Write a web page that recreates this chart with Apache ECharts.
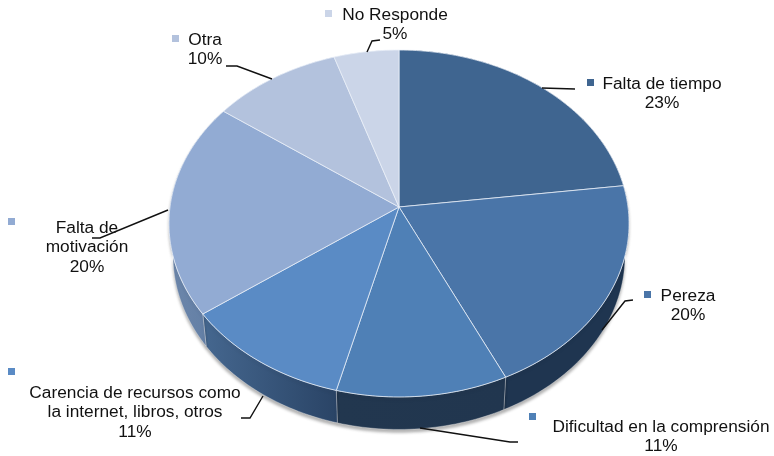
<!DOCTYPE html>
<html><head><meta charset="utf-8">
<style>html,body{margin:0;padding:0;background:#fff}#c{width:774px;height:456px}</style>
<script src="https://cdn.jsdelivr.net/npm/echarts@6/dist/echarts.min.js"></script>
</head><body><div id="c"></div>
<script>
const categories = ['Falta de tiempo','Pereza','Dificultad en la comprensión','Carencia de recursos como la internet, libros, otros','Falta de motivación','Otra','No Responde'];
const values = [23,20,11,11,20,10,5];
const labelLines = [['Falta de tiempo'],['Pereza'],['Dificultad en la comprensión'],['Carencia de recursos como','la internet, libros, otros'],['Falta de','motivación'],['Otra'],['No Responde']];

const faceColors = ['#3f6590','#4a75a8','#4f80b6','#5a8bc5','#92abd3','#b3c2dd','#cbd5e8'];
const wallColors = [
  ['#1f3550','#1f3550'],['#1f3550','#1f3550'],['#22374f','#21364f'],
  ['#45678f','#2a4466'],['#6d87ab','#5f7ca3'],['#b3c2dd','#b3c2dd'],['#cbd5e8','#cbd5e8']
];
const wallShadow = [0,3,3,3,3,0,0];
// Layout of each label: centre x, first line y, key x, key y, leader polyline
const layout = [
  {x:662,y:84, kx:587,ky:79, lead:[[542,88],[575,89]]},
  {x:688,y:296,kx:644,ky:291,lead:[[633,300],[625,301],[602,330]]},
  {x:661,y:427,kx:529,ky:413,lead:[[420,428],[510,442],[518,442]]},
  {x:135,y:393,kx:8,ky:368, lead:[[241,418],[250,418],[263,396]]},
  {x:87, y:228,kx:8,ky:218, lead:[[92,238],[100,238],[168,210]]},
  {x:205,y:40, kx:172,ky:35,lead:[[226,66],[237,66],[272,79]]},
  {x:395,y:15, kx:325,ky:10,lead:[[380,40],[372,41],[367,52]]}
];

// Projected disc: circle in perspective, hub off-centre from the rim ellipse
const CX=399, HUB=207, K=0.0951, A=229, B=-152.2;
function rim(t){ const s=Math.sin(t),c=Math.cos(t),d=1+K*c; return [CX+A*s/d,(B*c+HUB)/d]; }
function floor(p){ return [CX+(p[0]-CX)*226/230, 255+(p[1]-223)*174/173.5]; }

const total = values.reduce((a,b)=>a+b,0);
const starts=[]; values.reduce((acc,v,i)=>{starts[i]=acc;return acc+v;},0);

function arcPts(i,fn){
  const a0=starts[i]/total*2*Math.PI, a1=(starts[i]+values[i])/total*2*Math.PI;
  const n=Math.max(8,Math.round(values[i]*3)), pts=[];
  for(let j=0;j<=n;j++){ pts.push(fn(a0+(a1-a0)*j/n)); }
  return pts;
}
const wallData = values.map((v,i)=>[i,v]);
const faceData = values.map((v,i)=>({name:categories[i],value:[i,v]}));

const graphic=[];
labelLines.forEach((lines,i)=>{
  const L=layout[i];
  const txt=lines.concat([values[i]+'%']);
  txt.forEach((t,j)=>graphic.push({type:'text',z:20,x:L.x,y:L.y+j*19.5,style:{text:t,fill:'#111',font:'17.3px "Liberation Sans"',align:'center',verticalAlign:'middle'}}));
  graphic.push({type:'rect',z:20,shape:{x:L.kx,y:L.ky,width:7,height:7},style:{fill:faceColors[i]}});
  graphic.push({type:'polyline',z:21,shape:{points:L.lead},style:{stroke:'#111',lineWidth:1.4,fill:null}});
});

const option={
  animation:false,
  backgroundColor:'#fff',
  graphic:graphic,
  series:[
    {type:'custom',coordinateSystem:'none',z:1,data:wallData,silent:true,
     renderItem(params,api){
       const i=api.value(0);
       const top=arcPts(i,rim), bot=top.map(floor);
       const w=wallColors[i];
       const minX=Math.min(...top.map(p=>p[0])), maxX=Math.max(...top.map(p=>p[0]));
       return {type:'polygon',shape:{points:top.concat(bot.slice().reverse())},
         style:{fill:new echarts.graphic.LinearGradient(minX,0,maxX,0,[{offset:0,color:w[0]},{offset:1,color:w[1]}],true),
                stroke:'rgba(255,255,255,0.3)',lineWidth:1,shadowBlur:wallShadow[i],shadowOffsetY:wallShadow[i],shadowColor:'rgba(0,0,0,0.3)'}};
     }},
    {type:'custom',coordinateSystem:'none',z:2,data:faceData,silent:true,
     renderItem(params,api){
       const i=api.value(0);
       const pts=[[CX,HUB]].concat(arcPts(i,rim));
       return {type:'polygon',shape:{points:pts},style:{fill:faceColors[i],stroke:'rgba(235,240,248,0.75)',lineWidth:1}};
     }}
  ]
};
echarts.init(document.getElementById('c'),null,{renderer:'canvas'}).setOption(option);
</script></body></html>
